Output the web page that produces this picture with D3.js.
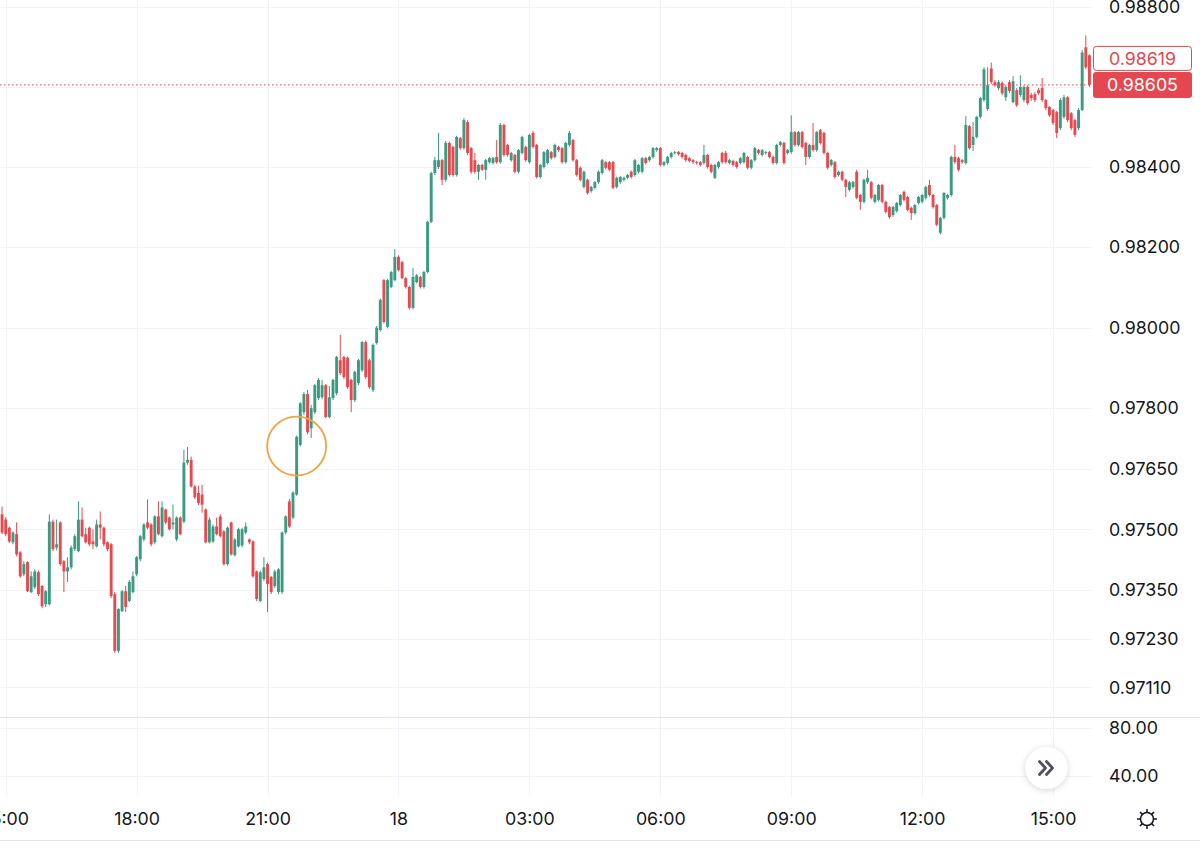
<!DOCTYPE html>
<html>
<head>
<meta charset="utf-8">
<script src="https://cdn.jsdelivr.net/npm/d3@7"></script>
<style>
  body { margin: 0; background: #fff; }
  text { font-family: Inter, "Noto Sans", sans-serif; }
</style>
</head>
<body>
<div id="chart"></div>
<script>
// 5-minute candles, prices in 1e-5 units
var opens = [
  97500,97537,97524,97504,97468,97488,97443,97389,97419,97345,
  97357,97394,97360,97315,97315,97519,97455,97517,97421,97396,
  97406,97451,97446,97524,97488,97504,97470,97458,97512,97504,
  97468,97463,97340,97200,97298,97347,97323,97345,97389,97426,
  97475,97517,97512,97468,97532,97483,97549,97529,97512,97475,
  97529,97519,97665,97672,97606,97590,97586,97549,97468,97470,
  97507,97532,97495,97414,97517,97436,97458,97460,97492,97475,
  97470,97396,97323,97377,97414,97382,97360,97345,97345,97492,
  97569,97529,97586,97709,97790,97835,97750,97790,97825,97827,
  97857,97778,97825,97837,97919,97927,97925,97870,97820,97862,
  97894,97964,97919,97845,97962,97994,98118,98002,98101,98118,
  98176,98163,98123,98101,98049,98113,98126,98101,98138,98263,
  98385,98400,98417,98368,98460,98450,98380,98472,98447,98512,
  98447,98417,98388,98405,98393,98412,98410,98425,98412,98505,
  98455,98417,98430,98388,98435,98450,98412,98485,98455,98375,
  98400,98410,98437,98425,98450,98447,98412,98455,98467,98417,
  98398,98350,98368,98340,98348,98362,98385,98412,98412,98412,
  98350,98362,98368,98373,98388,98380,98388,98388,98422,98417,
  98425,98442,98447,98405,98410,98425,98435,98437,98435,98430,
  98422,98417,98412,98412,98410,98430,98405,98373,98400,98435,
  98435,98410,98415,98412,98410,98412,98425,98398,98417,98442,
  98430,98435,98437,98425,98410,98455,98460,98435,98437,98487,
  98455,98487,98460,98425,98455,98442,98492,98485,98435,98405,
  98412,98380,98388,98368,98343,98350,98388,98330,98313,98362,
  98362,98313,98318,98355,98313,98300,98280,98290,98305,98338,
  98325,98298,98285,98310,98313,98323,98355,98330,98305,98236,
  98273,98323,98330,98425,98422,98417,98410,98502,98455,98475,
  98525,98567,98545,98646,98612,98597,98610,98574,98612,98562,
  98592,98580,98567,98600,98580,98582,98592,98597,98567,98550,
  98542,98537,98497,98525,98574,98534,98517,98497,98542,98699,98679
];
var highs = [
  97530,97556,97530,97507,97495,97517,97446,97421,97421,97396,
  97401,97398,97362,97350,97537,97524,97524,97520,97424,97431,
  97460,97488,97569,97554,97504,97507,97500,97524,97544,97507,
  97470,97466,97345,97305,97350,97360,97375,97396,97434,97486,
  97515,97574,97515,97535,97569,97569,97551,97532,97561,97532,
  97532,97697,97704,97680,97610,97608,97610,97552,97530,97512,
  97529,97537,97498,97507,97519,97478,97504,97504,97517,97478,
  97473,97398,97398,97431,97418,97385,97400,97404,97495,97535,
  97575,97594,97732,97815,97840,97845,97808,97860,97875,97870,
  97860,97855,97873,97930,97982,97930,97928,97873,97893,97922,
  97967,97968,97922,97960,98004,98072,98121,98121,98141,98195,
  98180,98166,98126,98104,98148,98133,98129,98141,98266,98388,
  98425,98485,98420,98465,98463,98453,98478,98475,98522,98517,
  98450,98435,98408,98408,98420,98425,98425,98467,98510,98508,
  98458,98438,98433,98445,98478,98453,98483,98490,98458,98408,
  98440,98445,98440,98458,98453,98450,98463,98490,98470,98420,
  98401,98391,98371,98353,98365,98391,98420,98415,98415,98415,
  98376,98378,98376,98383,98391,98420,98408,98425,98425,98428,
  98450,98450,98450,98415,98428,98438,98440,98440,98438,98433,
  98425,98420,98415,98415,98455,98433,98408,98408,98415,98438,
  98440,98420,98418,98415,98425,98438,98428,98420,98450,98445,
  98445,98440,98440,98428,98458,98465,98463,98445,98529,98490,
  98490,98490,98463,98458,98510,98490,98495,98488,98438,98420,
  98415,98391,98391,98371,98365,98365,98393,98333,98371,98393,
  98365,98333,98358,98358,98316,98303,98303,98313,98333,98341,
  98328,98301,98308,98328,98333,98353,98368,98333,98308,98276,
  98338,98333,98428,98455,98425,98420,98527,98505,98512,98528,
  98575,98649,98649,98661,98617,98617,98614,98604,98617,98627,
  98597,98629,98604,98604,98585,98587,98597,98622,98570,98552,
  98545,98540,98572,98580,98577,98537,98520,98547,98692,98729,98682
];
var lows = [
  97495,97488,97483,97466,97463,97433,97380,97384,97345,97342,
  97352,97335,97305,97308,97312,97446,97448,97410,97345,97370,
  97401,97446,97443,97480,97465,97458,97451,97455,97475,97458,
  97446,97330,97195,97195,97296,97296,97320,97342,97384,97421,
  97470,97500,97458,97463,97485,97480,97512,97497,97500,97470,
  97485,97515,97660,97603,97575,97560,97541,97465,97465,97466,
  97485,97480,97410,97410,97435,97433,97455,97455,97488,97463,
  97380,97323,97320,97372,97296,97340,97355,97340,97340,97488,
  97503,97525,97583,97705,97783,97735,97726,97785,97820,97822,
  97775,97775,97820,97832,97882,97872,97848,97790,97815,97857,
  97890,97872,97848,97840,97958,97990,98010,97998,98098,98115,
  98140,98120,98097,98045,98045,98110,98097,98097,98135,98260,
  98380,98395,98355,98363,98376,98376,98376,98443,98443,98430,
  98383,98383,98368,98390,98368,98408,98406,98408,98408,98426,
  98426,98413,98384,98384,98431,98413,98408,98446,98371,98371,
  98396,98406,98418,98421,98438,98408,98408,98451,98413,98376,
  98364,98346,98331,98336,98344,98358,98381,98394,98389,98344,
  98346,98358,98364,98369,98371,98376,98384,98384,98406,98413,
  98421,98438,98401,98401,98406,98421,98431,98428,98421,98413,
  98411,98408,98406,98401,98406,98396,98384,98370,98396,98408,
  98408,98406,98401,98396,98406,98408,98394,98394,98413,98431,
  98426,98431,98421,98406,98406,98451,98406,98431,98433,98451,
  98451,98446,98405,98421,98438,98438,98456,98431,98394,98401,
  98371,98376,98364,98325,98339,98346,98319,98293,98309,98358,
  98319,98309,98314,98309,98284,98271,98276,98286,98301,98314,
  98289,98268,98281,98306,98309,98319,98326,98296,98252,98232,
  98269,98319,98326,98408,98389,98408,98406,98443,98440,98471,
  98521,98563,98540,98607,98600,98592,98579,98565,98585,98559,
  98550,98575,98562,98555,98565,98562,98580,98562,98542,98525,
  98505,98472,98492,98520,98512,98492,98475,98492,98540,98644,98600
];
var closes = [
  97524,97492,97488,97470,97492,97438,97384,97414,97347,97384,
  97396,97340,97310,97347,97519,97451,97463,97414,97396,97406,
  97455,97483,97524,97483,97468,97463,97463,97512,97504,97463,
  97451,97335,97200,97303,97347,97308,97370,97384,97431,97483,
  97512,97504,97463,97532,97488,97554,97517,97500,97517,97529,
  97488,97665,97672,97606,97579,97565,97561,97468,97524,97507,
  97488,97483,97414,97504,97438,97475,97500,97500,97507,97468,
  97384,97328,97394,97406,97365,97345,97396,97401,97492,97532,
  97507,97591,97729,97812,97835,97740,97800,97857,97870,97857,
  97778,97827,97870,97927,97887,97877,97852,97820,97890,97919,
  97964,97877,97852,97957,98000,98069,98014,98118,98138,98176,
  98143,98123,98101,98049,98126,98130,98101,98138,98263,98385,
  98417,98417,98368,98460,98380,98380,98475,98447,98517,98435,
  98388,98388,98405,98393,98417,98422,98422,98412,98505,98430,
  98430,98435,98388,98442,98475,98417,98480,98450,98375,98405,
  98437,98442,98422,98455,98442,98412,98460,98485,98417,98380,
  98368,98388,98335,98350,98362,98388,98417,98398,98393,98348,
  98373,98375,98373,98380,98375,98417,98405,98422,98410,98425,
  98447,98447,98405,98412,98425,98435,98437,98432,98425,98417,
  98415,98412,98410,98405,98430,98400,98388,98405,98412,98412,
  98412,98417,98405,98400,98422,98435,98398,98417,98447,98435,
  98442,98437,98425,98410,98455,98462,98410,98442,98487,98455,
  98487,98450,98425,98455,98442,98487,98460,98435,98398,98417,
  98375,98388,98368,98350,98362,98362,98323,98313,98368,98373,
  98323,98330,98355,98313,98288,98275,98300,98310,98330,98318,
  98293,98285,98305,98325,98330,98350,98330,98300,98256,98273,
  98335,98330,98425,98412,98393,98412,98505,98447,98475,98525,
  98572,98644,98604,98612,98604,98612,98584,98600,98590,98614,
  98554,98600,98600,98559,98572,98567,98584,98567,98547,98529,
  98510,98485,98567,98574,98517,98497,98480,98542,98686,98649,98605
];

var firstCandle = Date.UTC(2022, 9, 17, 14, 50);
var candleMinutes = 5;
var viewStart = Date.UTC(2022, 9, 17, 14, 52, 10);
var viewEnd = Date.UTC(2022, 9, 18, 15, 52, 8);

var priceTicks = [0.98800, 0.98600, 0.98400, 0.98200, 0.98000, 0.97800, 0.97650, 0.97500, 0.97350, 0.97230, 0.97110];
var oscTicks = [80, 40];
var markPrice = 0.98619;
var circleIndex = 82, circlePrice = 0.97706;

var width = 1200, height = 849;
var plotW = 1091, mainH = 717, paneBottom = 796;
var upColor = "#3a9a82", downColor = "#e8494f";
var axisFont = "Inter, 'Noto Sans', sans-serif";

var candles = closes.map(function(c, i) {
  return {
    t: new Date(firstCandle + i * candleMinutes * 60000),
    o: opens[i] / 1e5, h: highs[i] / 1e5, l: lows[i] / 1e5, c: c / 1e5
  };
});

var x = d3.scaleUtc().domain([viewStart, viewEnd]).range([0, plotW]);
var y = d3.scaleLog().domain([0.970371, 0.988175]).range([mainH, 0]);
var yOsc = d3.scaleLinear().domain([23.3, 89.2]).range([paneBottom, mainH]);

var svg = d3.select("#chart").append("svg")
  .attr("width", width)
  .attr("height", height)
  .style("display", "block");

var defs = svg.append("defs");
defs.append("clipPath").attr("id", "plot")
  .append("rect").attr("width", plotW).attr("height", mainH);
var shadow = defs.append("filter").attr("id", "shadow")
  .attr("x", "-50%").attr("y", "-50%").attr("width", "200%").attr("height", "200%");
shadow.append("feDropShadow")
  .attr("dx", 0).attr("dy", 1).attr("stdDeviation", 3)
  .attr("flood-color", "#000").attr("flood-opacity", 0.18);

var timeTicks = x.ticks(d3.utcHour.every(3));
var fmtTime = function(d) {
  return d.getUTCHours() === 0 ? d3.utcFormat("%-d")(d) : d3.utcFormat("%H:%M")(d);
};

// grid
var grid = svg.append("g").attr("stroke", "#f0f3fa").attr("stroke-width", 1);
grid.selectAll(".vgrid")
  .data(timeTicks)
  .enter().append("line")
  .attr("x1", function(d) { return Math.round(x(d)) + 0.5; })
  .attr("x2", function(d) { return Math.round(x(d)) + 0.5; })
  .attr("y1", 0).attr("y2", paneBottom);
grid.selectAll(".hgrid")
  .data(priceTicks)
  .enter().append("line")
  .attr("x1", 0).attr("x2", plotW)
  .attr("y1", function(d) { return Math.round(y(d)) + 0.5; })
  .attr("y2", function(d) { return Math.round(y(d)) + 0.5; });
grid.selectAll(".ogrid")
  .data(oscTicks)
  .enter().append("line")
  .attr("x1", 0).attr("x2", plotW)
  .attr("y1", function(d) { return Math.round(yOsc(d)) + 0.5; })
  .attr("y2", function(d) { return Math.round(yOsc(d)) + 0.5; });

// candles
var bodyW = 2.9;
var g = svg.append("g").attr("clip-path", "url(#plot)");
var candle = g.selectAll(".candle")
  .data(candles)
  .enter().append("g")
  .attr("class", "candle")
  .attr("fill", function(d) { return d.c >= d.o ? upColor : downColor; })
  .attr("stroke", function(d) { return d.c >= d.o ? upColor : downColor; });

candle.append("line")
  .attr("x1", function(d) { return x(d.t); })
  .attr("x2", function(d) { return x(d.t); })
  .attr("y1", function(d) { return y(d.h); })
  .attr("y2", function(d) { return y(d.l); })
  .attr("stroke-width", 1);

candle.append("rect")
  .attr("stroke", "none")
  .attr("x", function(d) { return x(d.t) - bodyW / 2; })
  .attr("width", bodyW)
  .attr("y", function(d) { return Math.min(y(d.o), y(d.c)); })
  .attr("height", function(d) { return Math.max(1, Math.abs(y(d.o) - y(d.c))); });

// last price line
var last = candles[candles.length - 1];
svg.append("line")
  .attr("x1", 0).attr("x2", plotW)
  .attr("y1", y(last.c)).attr("y2", y(last.c))
  .attr("stroke", downColor)
  .attr("stroke-width", 1)
  .attr("stroke-dasharray", "1.5,2.5");

// annotation circle
svg.append("circle")
  .attr("cx", x(candles[circleIndex].t))
  .attr("cy", y(circlePrice))
  .attr("r", 29.5)
  .attr("fill", "none")
  .attr("stroke", "#f5a33f")
  .attr("stroke-width", 1.8);

// pane separator and bottom border
svg.append("line")
  .attr("x1", 0).attr("x2", width)
  .attr("y1", mainH + 0.5).attr("y2", mainH + 0.5)
  .attr("stroke", "#e0e3eb");
svg.append("line")
  .attr("x1", 0).attr("x2", width)
  .attr("y1", 840.5).attr("y2", 840.5)
  .attr("stroke", "#e0e3eb");

// price axis
var yAxis = svg.append("g")
  .attr("transform", "translate(1109,0)")
  .call(d3.axisRight(y).tickValues(priceTicks).tickFormat(d3.format(".5f")).tickSize(0).tickPadding(0));
yAxis.select(".domain").remove();
yAxis.selectAll("text")
  .style("font-size", "17.8px")
  .style("font-family", axisFont)
  .attr("fill", "#131722");

var oAxis = svg.append("g")
  .attr("transform", "translate(1109,0)")
  .call(d3.axisRight(yOsc).tickValues(oscTicks).tickFormat(d3.format(".2f")).tickSize(0).tickPadding(0));
oAxis.select(".domain").remove();
oAxis.selectAll("text")
  .style("font-size", "17.8px")
  .style("font-family", axisFont)
  .attr("fill", "#131722");

// time axis
var xAxis = svg.append("g")
  .attr("transform", "translate(0,819)")
  .call(d3.axisBottom(x).tickValues(timeTicks).tickFormat(fmtTime).tickSize(0).tickPadding(0));
xAxis.select(".domain").remove();
xAxis.selectAll("text")
  .attr("y", 0).attr("dy", "0.36em")
  .style("font-size", "17.8px")
  .style("font-family", axisFont)
  .attr("fill", "#131722");

// price labels
var boxX = 1093, boxW = 99, boxH = 26;
var lastY = y(last.c);
var labels = svg.append("g");
labels.append("rect")
  .attr("x", boxX).attr("y", lastY - boxH / 2)
  .attr("width", boxW).attr("height", boxH)
  .attr("rx", 3)
  .attr("fill", "#e4474f");
labels.append("text")
  .attr("x", boxX + boxW / 2).attr("y", lastY)
  .attr("dy", "0.36em")
  .attr("text-anchor", "middle")
  .attr("fill", "#fff")
  .style("font-size", "17.8px")
  .text(d3.format(".5f")(last.c));
labels.append("rect")
  .attr("x", boxX + 0.5).attr("y", lastY - boxH / 2 - 25.5)
  .attr("width", boxW - 1).attr("height", 24)
  .attr("rx", 3)
  .attr("fill", "#fff")
  .attr("stroke", "#e4474f");
labels.append("text")
  .attr("x", boxX + boxW / 2).attr("y", lastY - boxH / 2 - 13.5)
  .attr("dy", "0.36em")
  .attr("text-anchor", "middle")
  .attr("fill", "#e4474f")
  .style("font-size", "17.8px")
  .text(d3.format(".5f")(markPrice));

// scroll button
var btn = svg.append("g").attr("transform", "translate(1046.5,768)");
btn.append("circle")
  .attr("r", 21)
  .attr("fill", "#fff")
  .attr("filter", "url(#shadow)");
btn.append("path")
  .attr("d", "M-7,-6.5L-1,0L-7,6.5M0,-6.5L6,0L0,6.5")
  .attr("fill", "none")
  .attr("stroke", "#50535e")
  .attr("stroke-width", 2.8)
  .attr("stroke-linecap", "round")
  .attr("stroke-linejoin", "round");

// settings icon
var gear = svg.append("g")
  .attr("transform", "translate(1147,819)")
  .attr("stroke", "#131722")
  .attr("fill", "none")
  .attr("stroke-width", 1.5);
gear.append("circle").attr("r", 6.5);
gear.selectAll("line")
  .data(d3.range(8))
  .enter().append("line")
  .attr("x1", function(d) { return 6.5 * Math.cos(d * Math.PI / 4); })
  .attr("y1", function(d) { return 6.5 * Math.sin(d * Math.PI / 4); })
  .attr("x2", function(d) { return 10 * Math.cos(d * Math.PI / 4); })
  .attr("y2", function(d) { return 10 * Math.sin(d * Math.PI / 4); });
</script>
</body>
</html>
